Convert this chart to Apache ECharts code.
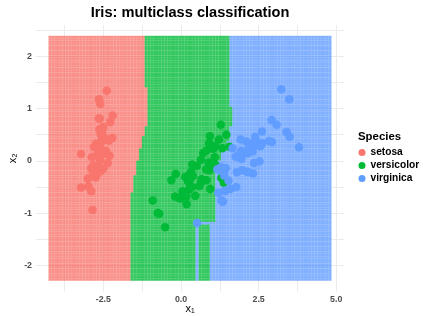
<!DOCTYPE html>
<html>
<head>
<meta charset="utf-8">
<script src="https://cdn.jsdelivr.net/npm/echarts@6/dist/echarts.min.js"></script>
<style>
  html, body { margin: 0; padding: 0; background: #fff; }
  #chart { width: 423px; height: 316px; }
</style>
</head>
<body>
<div id="chart"></div>
<script>
const species = ['setosa', 'versicolor', 'virginica'];
const colors = ['#F8766D', '#00BA38', '#619CFF'];

// PCA scores (x1, x2) per species
const setosaPts = [[-2.68,0.32],[-2.71,-0.18],[-2.89,-0.14],[-2.75,-0.32],[-2.73,0.33],[-2.28,0.74],[-2.82,-0.09],[-2.63,0.16],[-2.89,-0.58],[-2.67,-0.11],
  [-2.51,0.65],[-2.61,0.01],[-2.79,-0.24],[-3.22,-0.51],[-2.64,1.18],[-2.39,1.34],[-2.62,0.81],[-2.65,0.31],[-2.20,0.87],[-2.59,0.51],
  [-2.31,0.39],[-2.54,0.43],[-3.22,0.13],[-2.30,0.10],[-2.36,-0.04],[-2.51,-0.15],[-2.47,0.13],[-2.56,0.37],[-2.64,0.31],[-2.63,-0.20],
  [-2.59,-0.20],[-2.41,0.41],[-2.65,0.81],[-2.60,1.09],[-2.64,-0.12],[-2.87,0.07],[-2.63,0.60],[-2.80,0.27],[-2.98,-0.49],[-2.59,0.23],
  [-2.77,0.26],[-2.85,-0.94],[-3.00,-0.34],[-2.41,0.19],[-2.21,0.44],[-2.71,-0.25],[-2.54,0.50],[-2.84,-0.23],[-2.54,0.58],[-2.70,0.11]];
const versicolorPts = [[1.28,0.69],[0.93,0.32],[1.46,0.50],[0.18,-0.83],[1.09,0.07],[0.64,-0.42],[1.10,0.28],[-0.75,-1.00],[1.04,0.23],[-0.01,-0.72],
  [-0.51,-1.27],[0.51,-0.10],[0.26,-0.55],[0.98,-0.12],[-0.17,-0.25],[0.93,0.47],[0.66,-0.35],[0.24,-0.33],[0.94,-0.54],[0.05,-0.58],
  [1.12,-0.08],[0.36,-0.07],[1.30,-0.33],[0.92,-0.18],[0.71,0.15],[0.90,0.33],[1.33,0.24],[1.56,0.27],[0.81,-0.16],[-0.31,-0.37],
  [-0.07,-0.71],[-0.19,-0.68],[0.14,-0.31],[1.38,-0.42],[0.59,-0.48],[0.81,0.19],[1.22,0.41],[0.82,-0.37],[0.25,-0.27],[0.17,-0.68],
  [0.46,-0.67],[0.89,-0.03],[0.23,-0.40],[-0.70,-1.01],[0.36,-0.50],[0.33,-0.21],[0.38,-0.29],[0.64,0.02],[-0.91,-0.76],[0.30,-0.35]];
const virginicaPts = [[2.53,-0.01],[1.42,-0.57],[2.62,0.34],[1.97,-0.18],[2.35,-0.04],[3.40,0.55],[0.52,-1.19],[2.93,0.36],[2.32,-0.24],[2.92,0.78],
  [1.66,0.24],[1.80,-0.22],[2.17,0.22],[1.35,-0.78],[1.59,-0.54],[1.90,0.12],[1.95,0.04],[3.49,1.18],[3.80,0.26],[1.30,-0.76],
  [2.43,0.38],[1.20,-0.61],[3.50,0.46],[1.39,-0.20],[2.28,0.33],[2.61,0.56],[1.26,-0.18],[1.29,-0.12],[2.12,-0.21],[2.39,0.46],
  [2.84,0.38],[3.23,1.37],[2.16,-0.22],[1.44,-0.14],[1.78,-0.50],[3.08,0.69],[2.14,0.14],[1.91,0.05],[1.17,-0.16],[2.11,0.37],
  [2.31,0.18],[1.92,0.41],[1.42,-0.57],[2.56,0.28],[2.42,0.30],[1.94,0.19],[1.53,-0.38],[1.76,0.08],[1.90,0.12],[1.39,-0.28]];

// prediction mesh (range of scores +/- 1)
const meshX = [-4.22, 4.80];
const meshY = [-2.27, 2.37];
const meshN = 100;

// decision boundaries: bands listed top->bottom by lower y edge
const redEdgeY = [1.39, 0.68, 0.49, 0.24, 0.01, -0.27, -0.60, -3];
const redEdgeX = [-1.19, -1.05, -1.19, -1.29, -1.39, -1.45, -1.55, -1.63];
const blueEdgeY = [1.02, 0.64, 0.40, 0.20, 0.01, -0.12, -1.165, -1.215, -3];
const blueEdgeX = [1.56, 1.67, 1.58, 1.45, 1.29, 1.16, 1.10, 0.47, 0.96];
const blueStripX = [0.47, 0.56];
const blueStripTop = -1.165;

const xTicks = [-2.5, 0, 2.5, 5];
const xGrid = [-3.75, -2.5, -1.25, 0, 1.25, 2.5, 3.75, 5];
const yTicks = [-2, -1, 0, 1, 2];

function predict(x, y) {
  const rx = redEdgeX[redEdgeY.findIndex(b => y >= b)];
  if (x < rx) return 0;
  if (y < blueStripTop && x >= blueStripX[0] && x < blueStripX[1]) return 2;
  const bx = blueEdgeX[blueEdgeY.findIndex(b => y >= b)];
  return x < bx ? 1 : 2;
}

const regions = [[], [], []];
for (let i = 0; i < meshN; i++) {
  const x = meshX[0] + (meshX[1] - meshX[0]) * i / (meshN - 1);
  for (let j = 0; j < meshN; j++) {
    const y = meshY[0] + (meshY[1] - meshY[0]) * j / (meshN - 1);
    regions[predict(x, y)].push([x, y]);
  }
}

const font = '"Liberation Sans", Arial, sans-serif';
const chart = echarts.init(document.getElementById('chart'));

const series = [];
species.forEach((s, k) => {
  series.push({
    name: s + ' region',
    type: 'scatter',
    data: regions[k],
    symbol: 'rect',
    symbolSize: [2.9, 2.5],
    itemStyle: { color: colors[k], opacity: 0.8 },
    silent: true,
    large: false,
    z: 1
  });
});
[setosaPts, versicolorPts, virginicaPts].forEach((pts, k) => {
  series.push({
    name: species[k],
    type: 'scatter',
    data: pts,
    symbolSize: 8.5,
    itemStyle: { color: colors[k], opacity: 1 },
    z: 3
  });
});

chart.setOption({
  animation: false,
  grid: { left: 36, right: 79, top: 25, bottom: 24.5, outerBoundsMode: 'none', containLabel: false },
  graphic: [
    { type: 'text', x: 190, y: 13,
      style: { text: 'Iris: multiclass classification', font: 'bold 14.6px ' + font, fill: '#000',
               align: 'center', verticalAlign: 'middle', textAlign: 'center', textVerticalAlign: 'middle' } },
    { type: 'text', x: 358, y: 137,
      style: { text: 'Species', font: 'bold 11.4px ' + font, fill: '#000',
               align: 'left', verticalAlign: 'middle', textAlign: 'left', textVerticalAlign: 'middle' } }
  ],
  legend: {
    data: species,
    orient: 'vertical',
    left: 358.5,
    top: 146,
    padding: 0,
    icon: 'circle',
    itemWidth: 7,
    itemHeight: 7,
    itemGap: 0,
    selectedMode: false,
    textStyle: { fontFamily: font, fontSize: 10.2, fontWeight: 'bold', color: '#000', lineHeight: 13 }
  },
  xAxis: {
    type: 'value',
    min: -4.67,
    max: 5.25,
    name: 'x\u2081',
    nameLocation: 'middle',
    nameMoveOverlap: false,
    nameGap: 12,
    nameTextStyle: { fontFamily: font, fontSize: 11, color: '#000' },
    axisLine: { show: false, onZero: false },
    axisTick: { show: false, customValues: xGrid },
    axisLabel: {
      margin: 4,
      customValues: xTicks,
      fontFamily: font, fontSize: 8.8, fontWeight: 'bold', color: '#4D4D4D',
      formatter: v => v.toFixed(1)
    },
    splitLine: { show: true, lineStyle: { color: '#EBEBEB', width: 1 } }
  },
  yAxis: {
    type: 'value',
    min: -2.5,
    max: 2.6,
    interval: 0.5,
    name: 'x\u2082',
    nameLocation: 'middle',
    nameMoveOverlap: false,
    nameGap: 18,
    nameTextStyle: { fontFamily: font, fontSize: 11, color: '#000' },
    axisLine: { show: false, onZero: false },
    axisTick: { show: false },
    axisLabel: {
      margin: 4,
      fontFamily: font, fontSize: 8.8, fontWeight: 'bold', color: '#4D4D4D',
      formatter: v => yTicks.some(t => Math.abs(t - v) < 1e-6) ? String(Math.round(v)) : ''
    },
    splitLine: { show: true, showMinLine: false, showMaxLine: false, lineStyle: { color: '#EBEBEB', width: 1 } }
  },
  series: series
});
</script>
</body>
</html>
